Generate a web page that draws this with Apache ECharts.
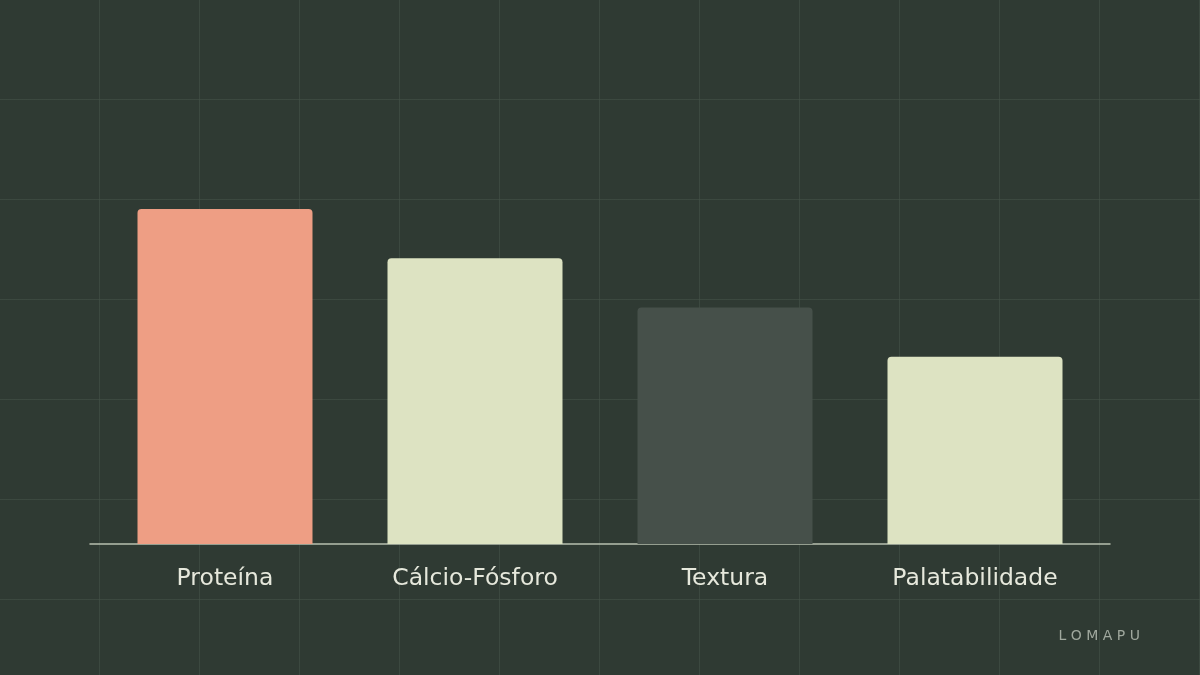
<!DOCTYPE html>
<html><head><meta charset="utf-8">
<script src="https://cdn.jsdelivr.net/npm/echarts@6/dist/echarts.min.js"></script>
<style>
html,body{margin:0;padding:0;background:#2f3a33;}
#c{width:1200px;height:675px;
background-color:#2f3a33;
background-image:linear-gradient(to right, rgba(70,84,74,0.55) 1px, transparent 1px),linear-gradient(to bottom, rgba(70,84,74,0.55) 1px, transparent 1px);
background-size:100px 100px;background-position:-1px -1px;}
</style></head>
<body><div id="c"></div>
<script>
const categories = ['Proteína', 'Cálcio-Fósforo', 'Textura', 'Palatabilidade'];
const values = [34, 29, 24, 19];
const barColors = ['#ee9e84', '#dde3c2', '#46504a', '#dde3c2'];

const chart = echarts.init(document.getElementById('c'), null, {renderer: 'canvas'});
chart.setOption({
  backgroundColor: 'transparent',
  animation: false,
  grid: [
    {left: 100, right: 100, top: 150, bottom: 131},
    {left: 90, right: 90, top: 150, bottom: 131}
  ],
  xAxis: [{
    type: 'category', data: categories, gridIndex: 0,
    axisLine: {show: false},
    axisTick: {show: false},
    axisLabel: {color: '#e6e8dc', fontSize: 23.5, margin: 23, fontFamily: 'DejaVu Sans'}
  }, {
    type: 'category', data: [''], gridIndex: 1,
    axisLine: {lineStyle: {color: '#b8c0b0', width: 1.5}},
    axisTick: {show: false}, axisLabel: {show: false}
  }],
  yAxis: [
    {type: 'value', min: 0, max: 40, show: false, gridIndex: 0},
    {type: 'value', min: 0, max: 40, show: false, gridIndex: 1}
  ],
  series: [{
    type: 'bar', barWidth: 175, xAxisIndex: 0, yAxisIndex: 0,
    data: values.map((v, i) => ({value: v, itemStyle: {color: barColors[i]}})),
    itemStyle: {borderRadius: [4, 4, 0, 0]}
  }],
  graphic: [{
    type: 'text', right: 60, top: 629,
    style: {text: 'L O M A P U', fill: '#a0a89e', font: '14px DejaVu Sans'}
  }]
});
</script></body></html>
